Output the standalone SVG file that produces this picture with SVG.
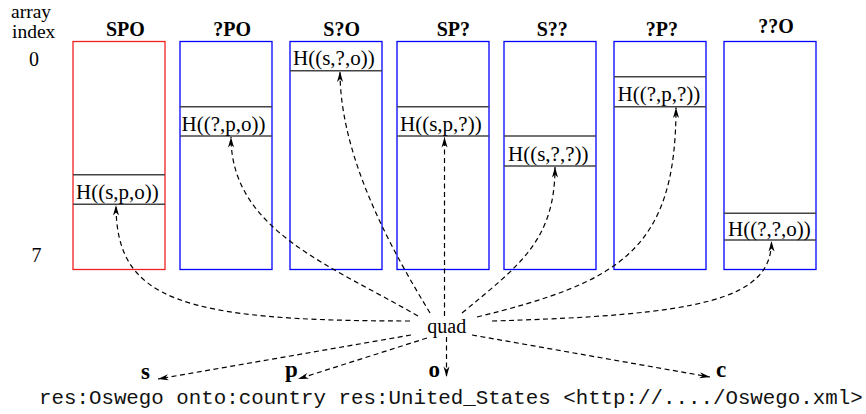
<svg xmlns="http://www.w3.org/2000/svg" width="866" height="414" viewBox="0 0 866 414">
  <style>
    .lbl { font-family: "Liberation Serif", "Times New Roman", serif; font-size: 20px; fill: #000; }
    .idx { font-family: "Liberation Serif", "Times New Roman", serif; font-size: 19.5px; fill: #000; }
    .hdr { font-family: "Liberation Serif", "Times New Roman", serif; font-size: 20px; font-weight: bold; fill: #000; }
    .term { font-family: "Liberation Serif", "Times New Roman", serif; font-size: 23px; font-weight: bold; fill: #000; }
    .cell { font-family: "Liberation Serif", "Times New Roman", serif; font-size: 21px; fill: #000; }
    .mono { font-family: "Liberation Mono", "Courier New", monospace; font-size: 20.8px; fill: #111; }
    .red { fill: #fff; stroke: #f02020; stroke-width: 1.3; }
    .blue { fill: #fff; stroke: #0000ff; stroke-width: 1.3; }
    .row { stroke: #444; stroke-width: 1.5; }
    .link { fill: none; stroke: #000; stroke-width: 1.2; stroke-dasharray: 5 3.5; marker-end: url(#ah); }
  </style>
  <defs>
    <marker id="ah" markerUnits="userSpaceOnUse" markerWidth="12" markerHeight="8" viewBox="-11 -4 12 8" refX="0" refY="0" orient="auto">
      <path d="M0,0 L-10.5,-3 L-7.5,0 L-10.5,3 Z" fill="#000" stroke="none"/>
    </marker>
  </defs>

  <rect width="866" height="414" fill="#fff"/>

  <!-- index scale -->
  <g id="index">
    <text class="idx" x="11" y="17.5">array</text>
    <text class="idx" x="12" y="38">index</text>
    <text class="lbl" x="34" y="66" text-anchor="middle">0</text>
    <text class="lbl" x="36.5" y="261.5" text-anchor="middle">7</text>
  </g>

  <!-- one hash table per access pattern -->
  <g id="tbl-spo">
    <text class="hdr" x="106" y="35.5">SPO</text>
    <rect class="red" x="73" y="41.5" width="92" height="228"/>
    <line class="row" x1="73" y1="174.7" x2="165" y2="174.7"/>
    <line class="row" x1="73" y1="204.3" x2="165" y2="204.3"/>
    <text class="cell" x="76" y="198.5">H((s,p,o))</text>
  </g>

  <g id="tbl-xpo">
    <text class="hdr" x="213.3" y="35.5">?PO</text>
    <rect class="blue" x="180" y="41.5" width="92" height="228"/>
    <line class="row" x1="180" y1="106.7" x2="272" y2="106.7"/>
    <line class="row" x1="180" y1="136" x2="272" y2="136"/>
    <text class="cell" x="181.5" y="130.5">H((?,p,o))</text>
  </g>

  <g id="tbl-sxo">
    <text class="hdr" x="323.3" y="35.5">S?O</text>
    <rect class="blue" x="290" y="41.5" width="92" height="228"/>
    <line class="row" x1="290" y1="70.7" x2="382" y2="70.7"/>
    <text class="cell" x="293" y="65">H((s,?,o))</text>
  </g>

  <g id="tbl-spx">
    <text class="hdr" x="436.7" y="35.5">SP?</text>
    <rect class="blue" x="397" y="41.5" width="92" height="228"/>
    <line class="row" x1="397" y1="106.7" x2="489" y2="106.7"/>
    <line class="row" x1="397" y1="136" x2="489" y2="136"/>
    <text class="cell" x="400" y="130.5">H((s,p,?))</text>
  </g>

  <g id="tbl-sxx">
    <text class="hdr" x="536.7" y="35.5">S??</text>
    <rect class="blue" x="504" y="41.5" width="92" height="228"/>
    <line class="row" x1="504" y1="136" x2="596" y2="136"/>
    <line class="row" x1="504" y1="166" x2="596" y2="166"/>
    <text class="cell" x="508" y="160.5">H((s,?,?))</text>
  </g>

  <g id="tbl-xpx">
    <text class="hdr" x="645.7" y="35.5">?P?</text>
    <rect class="blue" x="614" y="41.5" width="92" height="228"/>
    <line class="row" x1="614" y1="76.7" x2="706" y2="76.7"/>
    <line class="row" x1="614" y1="106.7" x2="706" y2="106.7"/>
    <text class="cell" x="617.5" y="100.5">H((?,p,?))</text>
  </g>

  <g id="tbl-xxo">
    <text class="hdr" x="758.3" y="32.5">??O</text>
    <rect class="blue" x="724" y="41.5" width="92" height="228"/>
    <line class="row" x1="724" y1="213.3" x2="816" y2="213.3"/>
    <line class="row" x1="724" y1="240" x2="816" y2="240"/>
    <text class="cell" x="728" y="235.5">H((?,?,o))</text>
  </g>

  <!-- the quad and its four terms -->
  <g id="quad">
    <text class="lbl" x="427.3" y="333">quad</text>
  </g>
  <g id="term-s"><text class="term" x="141" y="379">s</text></g>
  <g id="term-p"><text class="term" x="285" y="377">p</text></g>
  <g id="term-o"><text class="term" x="428.5" y="377">o</text></g>
  <g id="term-c"><text class="term" x="716" y="377">c</text></g>

  <g id="triple">
    <text class="mono" x="39" y="404">res:Oswego onto:country res:United_States &lt;http://..../Oswego.xml&gt;</text>
  </g>

  <!-- dashed connectors -->
  <g id="connectors">
    <path class="link" d="M410,321 C180,321 116,300 116,205"/>
    <path class="link" d="M418,316 C330,265 231,230 231,137"/>
    <path class="link" d="M430,313 C395,255 340,160 340,71.5"/>
    <path class="link" d="M444.5,316 L444.5,137"/>
    <path class="link" d="M462,313 C520,265 555,240 555,167"/>
    <path class="link" d="M477,317 C620,282 676,250 676,107.5"/>
    <path class="link" d="M492,321 C700,315 771.5,300 771.5,241"/>
    <path class="link" d="M411,335 L158,379"/>
    <path class="link" d="M427,338 L298,379"/>
    <path class="link" d="M446.5,337 L446.5,377"/>
    <path class="link" d="M472,335 L710,377"/>
  </g>
</svg>
